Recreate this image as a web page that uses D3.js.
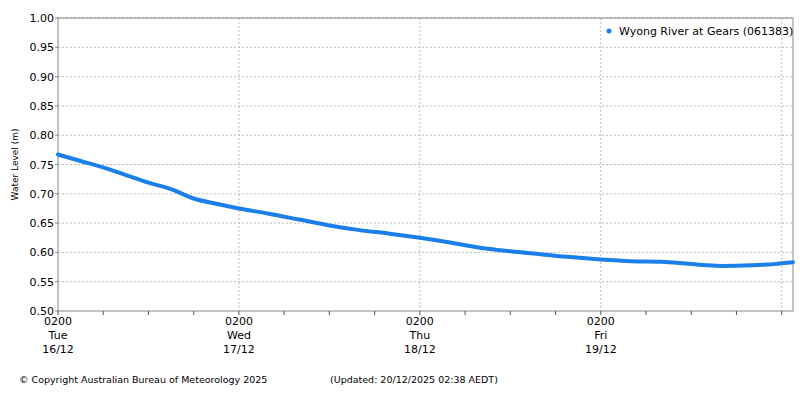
<!DOCTYPE html>
<html><head><meta charset="utf-8">
<script src="https://cdn.jsdelivr.net/npm/d3@7"></script>
<style>body{margin:0;background:#fff}text{font-family:"DejaVu Sans",sans-serif}</style>
</head><body><svg id="c" width="800" height="400"></svg>
<script>
// hours since 16/12 02:00 and water level (m)
const hours = [0,3,6,9,12,15,18,21,24,28,32,36,40,44,48,52,56,60,64,68,72,76,80,84,88,92,95,97.5]
const levels = [0.767,0.756,0.745,0.732,0.719,0.708,0.692,0.683,0.675,0.666,0.656,0.646,0.638,0.632,0.625,0.617,0.608,0.602,0.597,0.592,0.588,0.585,0.584,0.580,0.577,0.578,0.580,0.583]
const yTicks = d3.range(0.5,1.0001,0.05)
const dayLabels = [["Tue","16/12"],["Wed","17/12"],["Thu","18/12"],["Fri","19/12"]]

const svg = d3.select("#c")
const L=58,R=793,T=18,B=311
const x = d3.scaleLinear().domain([0,97.5]).range([L,R])
const y = d3.scaleLinear().domain([0.5,1.0]).range([B,T])

//grid
svg.selectAll(".gy").data(yTicks.slice(1)).enter().append("line")
  .attr("x1",L).attr("x2",R).attr("y1",d=>y(d)).attr("y2",d=>y(d))
  .attr("stroke","#bbb").attr("stroke-dasharray","2,2")
svg.selectAll(".gx").data([24,48,72,96]).enter().append("line")
  .attr("x1",d=>x(d)).attr("x2",d=>x(d)).attr("y1",T).attr("y2",B)
  .attr("stroke","#bbb").attr("stroke-dasharray","2,2")
svg.append("rect").attr("x",L).attr("y",T).attr("width",R-L).attr("height",B-T)
  .attr("fill","none").attr("stroke","#888")

//y axis
svg.selectAll(".yt").data(yTicks).enter().append("text")
  .attr("x",L-4).attr("y",d=>y(d)+4).attr("text-anchor","end")
  .attr("font-size",11).attr("fill","#000").text(d=>d.toFixed(2))
svg.selectAll(".ytk").data(yTicks).enter().append("line")
  .attr("x1",L-3).attr("x2",L).attr("y1",d=>y(d)).attr("y2",d=>y(d)).attr("stroke","#888")
svg.append("text").attr("transform","translate(18,"+((T+B)/2)+") rotate(-90)")
  .attr("text-anchor","middle").attr("font-size",9).attr("font-family","DejaVu Sans Mono")
  .text("Water Level (m)")

//x axis
svg.selectAll(".xt").data(d3.range(0,97,6)).enter().append("line")
  .attr("x1",d=>x(d)).attr("x2",d=>x(d)).attr("y1",B).attr("y2",B+4).attr("stroke","#555")
dayLabels.forEach((d,i)=>{
  const g = svg.append("g").attr("transform","translate("+x(i*24)+","+B+")")
  ;["0200",d[0],d[1]].forEach((t,j)=>g.append("text").attr("y",14+j*14)
    .attr("text-anchor","middle").attr("font-size",11).text(t))
})

//data
svg.append("path").datum(hours.map((h,i)=>[h,levels[i]]))
  .attr("d",d3.line().x(d=>x(d[0])).y(d=>y(d[1])).curve(d3.curveMonotoneX))
  .attr("fill","none").attr("stroke","#1a7fe8").attr("stroke-width",4).attr("stroke-linecap","round")

//legend
svg.append("circle").attr("cx",609).attr("cy",31).attr("r",2.5).attr("fill","#1a7fe8")
svg.append("text").attr("x",619).attr("y",35).attr("font-size",11).text("Wyong River at Gears (061383)")

//footer
svg.append("text").attr("x",19).attr("y",383).attr("font-size",9.5).text("© Copyright Australian Bureau of Meteorology 2025")
svg.append("text").attr("x",330).attr("y",383).attr("font-size",9.5).text("(Updated: 20/12/2025 02:38 AEDT)")
</script></body></html>
